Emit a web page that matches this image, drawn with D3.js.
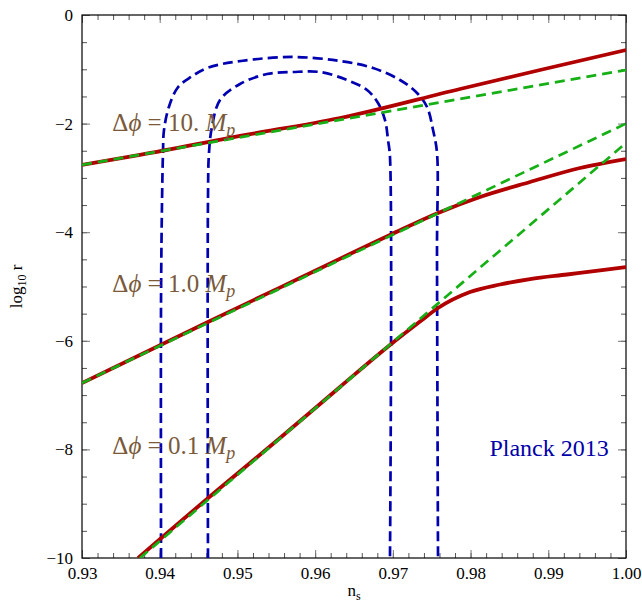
<!DOCTYPE html>
<html>
<head>
<meta charset="utf-8">
<script src="https://cdn.jsdelivr.net/npm/d3@7"></script>
<style>
  body { margin: 0; background: #fff; }
  text { font-family: "Liberation Serif", "DejaVu Serif", serif; }
</style>
</head>
<body>
<div id="chart"></div>
<script>
// chart data (ns, log10 r)
var redTop = [[0.93,-2.76],[0.93746,-2.578],[0.95033,-2.228],[0.9632,-1.897],[0.97864,-1.363],[0.98894,-1.013],[1.0,-0.645]];
var redMid = [[0.93,-6.777],[0.94621,-5.654],[0.95805,-4.843],[0.96963,-4.052],[0.97581,-3.646],[0.98122,-3.352],[0.98765,-3.076],[0.99408,-2.818],[1.0,-2.652]];
var redLow = [[0.93721,-10],[0.94776,-8.71],[0.95548,-7.79],[0.9632,-6.85],[0.96963,-6.077],[0.9735,-5.645],[0.97581,-5.396],[0.97993,-5.101],[0.98379,-4.963],[0.98765,-4.862],[0.99241,-4.779],[0.99666,-4.705],[1.0,-4.641]];
var greenTop = [[0.93,-2.76],[1.0,-1.013]];
var greenMid = [[0.93,-6.777],[1.0,-2.0]];
var greenLow = [[0.93746,-10],[1.0,-2.357]];
var blueOuter = [[0.94017,-10],[0.94017,-5.25],[0.9403,-3.41],[0.94042,-2.54],[0.94055,-2.12],[0.94119,-1.69],[0.94235,-1.33],[0.94403,-1.14],[0.94621,-0.97],[0.95046,-0.847],[0.95715,-0.773],[0.9632,-0.847],[0.96745,-0.976],[0.97092,-1.197],[0.97311,-1.436],[0.97440,-1.694],[0.97517,-2.118],[0.97568,-2.54],[0.97568,-4.33],[0.97581,-10]];
var blueInner = [[0.94621,-10],[0.94621,-3.41],[0.94634,-2.54],[0.94672,-2.06],[0.94776,-1.565],[0.95033,-1.271],[0.95380,-1.087],[0.95715,-1.05],[0.96063,-1.05],[0.9641,-1.197],[0.96668,-1.381],[0.96809,-1.62],[0.96899,-1.934],[0.96938,-2.302],[0.96963,-2.615],[0.96963,-10]];
var xTicks = [0.93,0.94,0.95,0.96,0.97,0.98,0.99,1.00];
var yTicks = [0,-2,-4,-6,-8,-10];
var curveLabels = [["10.", -2.14],["1.0", -5.10],["0.1", -8.08]];

var svgWidth = 642, svgHeight = 604;
var margin = {top: 15, right: 16, bottom: 46, left: 82};
var width = svgWidth - margin.left - margin.right;
var height = svgHeight - margin.top - margin.bottom;

var svg = d3.select("#chart").append("svg")
  .attr("width", svgWidth)
  .attr("height", svgHeight);

var g = svg.append("g")
  .attr("transform", `translate(${margin.left},${margin.top})`);

var x = d3.scaleLinear().domain([0.93, 1.0]).range([0, width]);
var y = d3.scaleLinear().domain([-10, 0]).range([height, 0]);

g.append("clipPath").attr("id", "clip")
  .append("rect").attr("width", width).attr("height", height);

// ticks on all four sides, pointing inward
var minorX = d3.range(0.93, 1.0001, 0.002);
var minorY = d3.range(-10, 0.001, 0.5);
function tickAxis(axis, minor, major, fmt, transform) {
  var a = g.append("g").attr("transform", transform || null)
    .call(axis(minor).tickSize(-5).tickFormat(""));
  a.select(".domain").remove();
  a.selectAll("line").attr("stroke", "#555");
  var b = g.append("g").attr("transform", transform || null)
    .call(axis(major).tickSize(-8).tickPadding(9).tickFormat(fmt));
  b.select(".domain").remove();
  b.selectAll("line").attr("stroke", "#777");
  b.selectAll("text").attr("font-size", 17).attr("fill", "#000")
    .style("font-family", "Liberation Serif");
  return b;
}
var fmtX = d3.format(".2f");
var fmtY = d => d < 0 ? "\u2212" + Math.abs(d) : d;
tickAxis(s => d3.axisBottom(x).tickValues(s), minorX, xTicks, fmtX, `translate(0,${height})`);
tickAxis(s => d3.axisTop(x).tickValues(s), minorX, xTicks, "", null);
tickAxis(s => d3.axisLeft(y).tickValues(s), minorY, yTicks, fmtY, null);
tickAxis(s => d3.axisRight(y).tickValues(s), minorY, yTicks, "", `translate(${width},0)`);

g.append("rect").attr("width", width).attr("height", height)
  .attr("fill", "none").attr("stroke", "#000").attr("stroke-width", 1.2);

var line = d3.line().x(d => x(d[0])).y(d => y(d[1])).curve(d3.curveMonotoneX);
var loop = d3.line().x(d => x(d[0])).y(d => y(d[1])).curve(d3.curveCatmullRom.alpha(0.5));

var plot = g.append("g").attr("clip-path", "url(#clip)");

[blueOuter, blueInner].forEach(function(d) {
  plot.append("path").attr("d", loop(d))
    .attr("fill", "none").attr("stroke", "#0000b0")
    .attr("stroke-width", 2.7).attr("stroke-dasharray", "10,5");
});

[redTop, redMid, redLow].forEach(function(d) {
  plot.append("path").attr("d", line(d))
    .attr("fill", "none").attr("stroke", "#b00000").attr("stroke-width", 3.8);
});

[greenTop, greenMid, greenLow].forEach(function(d) {
  plot.append("path").attr("d", line(d))
    .attr("fill", "none").attr("stroke", "#16b016")
    .attr("stroke-width", 2.7).attr("stroke-dasharray", "10,6");
});

// curve labels
curveLabels.forEach(function(c) {
  var t = g.append("text")
    .attr("x", x(0.9339)).attr("y", y(c[1]))
    .attr("fill", "#7a5a3a").attr("font-size", 25);
  t.append("tspan").text("\u0394");
  t.append("tspan").attr("font-style", "italic").text("\u03d5");
  t.append("tspan").text(" = " + c[0] + " ");
  t.append("tspan").attr("font-style", "italic").text("M");
  t.append("tspan").attr("font-style", "italic").attr("font-size", 18).attr("dy", 5).text("p");
});

g.append("text")
  .attr("x", x(0.9901)).attr("y", y(-8.12))
  .attr("text-anchor", "middle")
  .attr("fill", "#0000aa").attr("font-size", 24)
  .text("Planck 2013");

// axis titles
var xt = svg.append("text")
  .attr("x", margin.left + width / 2).attr("y", 596)
  .attr("text-anchor", "middle").attr("font-size", 17);
xt.append("tspan").text("n");
xt.append("tspan").attr("font-size", 12).attr("dy", 4).text("s");

var yt = svg.append("text")
  .attr("transform", `translate(22,${margin.top + height / 2}) rotate(-90)`)
  .attr("text-anchor", "middle").attr("font-size", 17);
yt.append("tspan").text("log");
yt.append("tspan").attr("font-size", 12).attr("dy", 4).text("10");
yt.append("tspan").attr("dy", -4).text(" r");
</script>
</body>
</html>
